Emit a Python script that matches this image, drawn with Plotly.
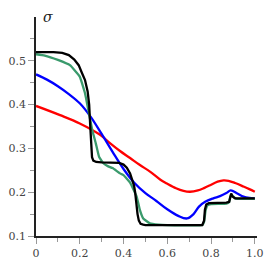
import plotly.graph_objects as go

black_x = [0, 0.08, 0.12, 0.15, 0.175, 0.195, 0.21, 0.224, 0.236, 0.243, 0.248, 0.252, 0.256, 0.262, 0.275, 0.3, 0.38, 0.40, 0.415, 0.43, 0.44, 0.448, 0.453, 0.458, 0.464, 0.47, 0.478, 0.49, 0.5, 0.76, 0.768, 0.772, 0.778, 0.79, 0.87, 0.883, 0.887, 0.892, 0.898, 0.91, 1.0]
black_y = [0.52, 0.52, 0.518, 0.513, 0.503, 0.49, 0.472, 0.456, 0.43, 0.40, 0.35, 0.30, 0.28, 0.272, 0.269, 0.268, 0.267, 0.263, 0.256, 0.243, 0.228, 0.215, 0.2, 0.175, 0.15, 0.135, 0.128, 0.126, 0.125, 0.125, 0.135, 0.16, 0.172, 0.175, 0.176, 0.178, 0.19, 0.197, 0.19, 0.186, 0.186]

green_x = [0, 0.04, 0.1, 0.155, 0.2, 0.224, 0.239, 0.257, 0.273, 0.288, 0.308, 0.33, 0.35, 0.384, 0.4, 0.43, 0.46, 0.475, 0.49, 0.52, 0.56, 0.6, 0.76, 0.768, 0.775, 0.783, 0.8, 0.87, 0.882, 0.888, 0.895, 0.905, 0.92, 1.0]
green_y = [0.515, 0.512, 0.502, 0.49, 0.464, 0.426, 0.388, 0.342, 0.312, 0.281, 0.266, 0.259, 0.255, 0.243, 0.239, 0.222, 0.19, 0.159, 0.14, 0.129, 0.126, 0.125, 0.125, 0.132, 0.158, 0.17, 0.173, 0.174, 0.177, 0.19, 0.194, 0.188, 0.185, 0.185]

blue_x = [0, 0.05, 0.1, 0.15, 0.2, 0.25, 0.3, 0.35, 0.4, 0.45, 0.5, 0.55, 0.6, 0.65, 0.69, 0.72, 0.745, 0.773, 0.81, 0.841, 0.87, 0.89, 0.92, 0.948, 0.975, 1.0]
blue_y = [0.469, 0.457, 0.442, 0.424, 0.403, 0.372, 0.333, 0.292, 0.253, 0.221, 0.198, 0.18, 0.161, 0.146, 0.14, 0.15, 0.167, 0.178, 0.186, 0.191, 0.198, 0.204, 0.197, 0.19, 0.187, 0.186]

red_x = [0, 0.11, 0.2, 0.293, 0.338, 0.384, 0.43, 0.475, 0.521, 0.567, 0.598, 0.64, 0.674, 0.704, 0.74, 0.77, 0.796, 0.83, 0.857, 0.88, 0.91, 0.948, 0.975, 1.0]
red_y = [0.397, 0.376, 0.357, 0.331, 0.312, 0.294, 0.278, 0.262, 0.247, 0.229, 0.22, 0.209, 0.203, 0.201, 0.204, 0.21, 0.216, 0.224, 0.227, 0.226, 0.221, 0.213, 0.207, 0.201]

x_ticks = [0, 0.2, 0.4, 0.6, 0.8, 1.0]
x_ticklabels = ["0", "0.2", "0.4", "0.6", "0.8", "1.0"]
y_ticks = [0.1, 0.2, 0.3, 0.4, 0.5]
y_ticklabels = ["0.1", "0.2", "0.3", "0.4", "0.5"]

SERIF = "DejaVu Serif"

fig = go.Figure()
fig.add_trace(go.Scatter(x=red_x, y=red_y, mode="lines", line=dict(color="#ff0000", width=2.3, shape="spline", smoothing=1)))
fig.add_trace(go.Scatter(x=blue_x, y=blue_y, mode="lines", line=dict(color="#0000ff", width=2.3, shape="spline", smoothing=1)))
fig.add_trace(go.Scatter(x=green_x, y=green_y, mode="lines", line=dict(color="#3a9a6c", width=2.3, shape="spline", smoothing=0.3)))
fig.add_trace(go.Scatter(x=black_x, y=black_y, mode="lines", line=dict(color="#000000", width=2.3, shape="linear")))

tickfont = dict(family=SERIF, size=11, color="#444")
fig.update_layout(
    width=278, height=272,
    margin=dict(l=28, r=29, t=9, b=44),
    paper_bgcolor="white", plot_bgcolor="white",
    showlegend=False,
    font=dict(family=SERIF, size=11, color="#444"),
    xaxis=dict(range=[0, 1.01], automargin=False, showgrid=False, zeroline=False, showline=True, linecolor="#222", linewidth=1.5,
               tickmode="array", tickvals=x_ticks, ticktext=x_ticklabels, tickfont=tickfont,
               ticks="outside", ticklen=6, tickcolor="#999", tickwidth=1,
               minor=dict(tickvals=[0.1, 0.3, 0.5, 0.7, 0.9], ticks="outside", ticklen=4, tickcolor="#999", tickwidth=1)),
    yaxis=dict(range=[0.1, 0.6], automargin=False, showgrid=False, zeroline=False, showline=True, linecolor="#222", linewidth=1.5,
               tickmode="array", tickvals=y_ticks, ticktext=y_ticklabels, tickfont=tickfont,
               ticks="outside", ticklen=6, tickcolor="#999", tickwidth=1,
               minor=dict(tickvals=[0.15, 0.25, 0.35, 0.45, 0.55], ticks="outside", ticklen=4, tickcolor="#999", tickwidth=1)),
    annotations=[
        dict(text="<i>σ</i>", x=0.055, y=0.6, xref="x", yref="y", showarrow=False, font=dict(family=SERIF, size=14, color="#222")),
        dict(text="<i>x</i>", x=1.048, y=0.106, xref="x", yref="y", showarrow=False, font=dict(family=SERIF, size=15, color="#222")),
    ],
)
fig.write_html("out.html")
